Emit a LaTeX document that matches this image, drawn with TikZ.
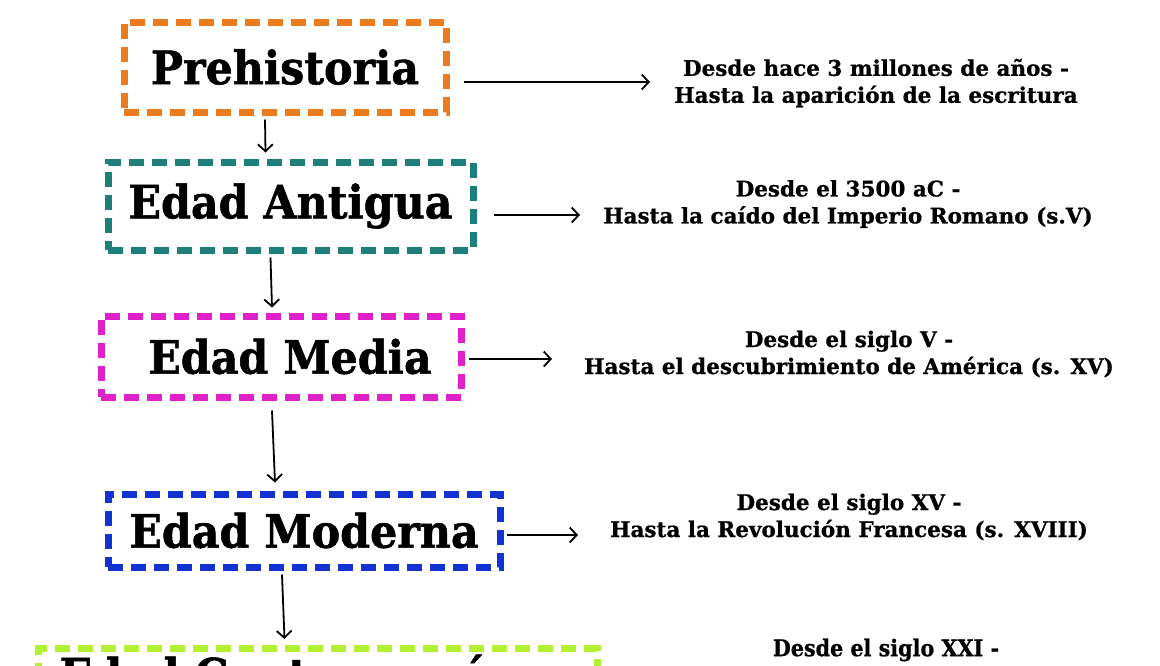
\documentclass[tikz,border=0pt]{standalone}
\usepackage{fontspec}
\setmainfont{DejaVu Serif}
\newfontfamily\titlefont{DejaVu Serif}[FakeStretch=0.93, BoldFeatures={FakeBold=1.2}]
\newfontfamily\infofont{DejaVu Serif}[BoldFeatures={FakeBold=0.8}]
\newfontfamily\condfont{DejaVu Serif Condensed}[BoldFeatures={FakeBold=0.8}]
\usetikzlibrary{arrows.meta,calc}
\definecolor{cPre}{HTML}{EC7A1E}
\definecolor{cAnt}{HTML}{1E7F78}
\definecolor{cMed}{HTML}{E020C8}
\definecolor{cMod}{HTML}{1232D2}
\definecolor{cCon}{HTML}{B4F032}
\tikzset{
  era/.style={draw=#1, line width=7pt, dash pattern=on 15pt off 8pt,
    inner sep=0pt, font=\titlefont\bfseries\fontsize{46}{50}\selectfont, text=black},
  info/.style={align=center, font=\infofont\bfseries\fontsize{21.5}{27}\selectfont, text=black},
  arr/.style={line width=1.8pt, -{Straight Barb[length=7pt,width=15pt,line width=1.8pt]}},
}
\begin{document}
\begin{tikzpicture}[x=1pt,y=-1pt]
\fill[white] (0,0) rectangle (1160,665);
\clip (0,0) rectangle (1160,665);
% era boxes
\node[era=cPre, minimum width=322pt, minimum height=90pt] (pre) at (285,67) {Prehistoria};
\node[era=cAnt, minimum width=365pt, minimum height=88pt] (ant) at (290.5,206) {Edad Antigua};
\node[era=cMed, minimum width=360pt, minimum height=81pt] (med) at (281,356.5) {\hspace*{18pt}Edad Media};
\node[era=cMod, minimum width=392pt, minimum height=73pt] (mod) at (304,530.5) {Edad Moderna};
\node[era=cCon, minimum width=559pt, inner ysep=9pt, text height=34pt, text depth=12pt,
      anchor=north] (con) at (317.5,645) {Edad Contemporánea};
% info texts
\node[info] (t1) at (876,83) {Desde hace 3 millones de años -\\Hasta la aparición de la escritura};
\node[info] (t2) at (848,204) {Desde el 3500 aC -\\Hasta la caído del Imperio Romano (s.V)};
\node[info] (t3) at (849,354) {Desde el siglo V -\\Hasta el descubrimiento de América (s. XV)};
\node[info] (t4) at (849,517) {Desde el siglo XV -\\Hasta la Revolución Francesa (s. XVIII)};
\node[info, font=\condfont\bfseries\fontsize{23}{27}\selectfont] (t5) at (886,650) {Desde el siglo XXI -};
% arrow tips
\coordinate (h1) at (650,82);
\coordinate (h2) at (580,215);
\coordinate (h3) at (552,359);
\coordinate (h4) at (578,535);
% horizontal arrows
\draw[arr] (h1 -| pre.east) ++(14,0) -- (h1);
\draw[arr] (h2 -| ant.east) ++(17,0) -- (h2);
\draw[arr] (h3 -| med.east) ++(4,0) -- (h3);
\draw[arr] (h4 -| mod.east) ++(3,0) -- (h4);
% vertical arrows
\draw[arr] ($(pre.south)+(-20,4)$) -- ($(ant.north)+(-25,-6)$);
\draw[arr] ($(ant.south)+(-20,4)$) -- ($(med.north)+(-9,-5)$);
\draw[arr] ($(med.south)+(-9,10)$) -- ($(mod.north)+(-29,-8)$);
\draw[arr] ($(mod.south)+(-22,4)$) -- ($(con.north)+(-33,-6)$);
\end{tikzpicture}
\end{document}
